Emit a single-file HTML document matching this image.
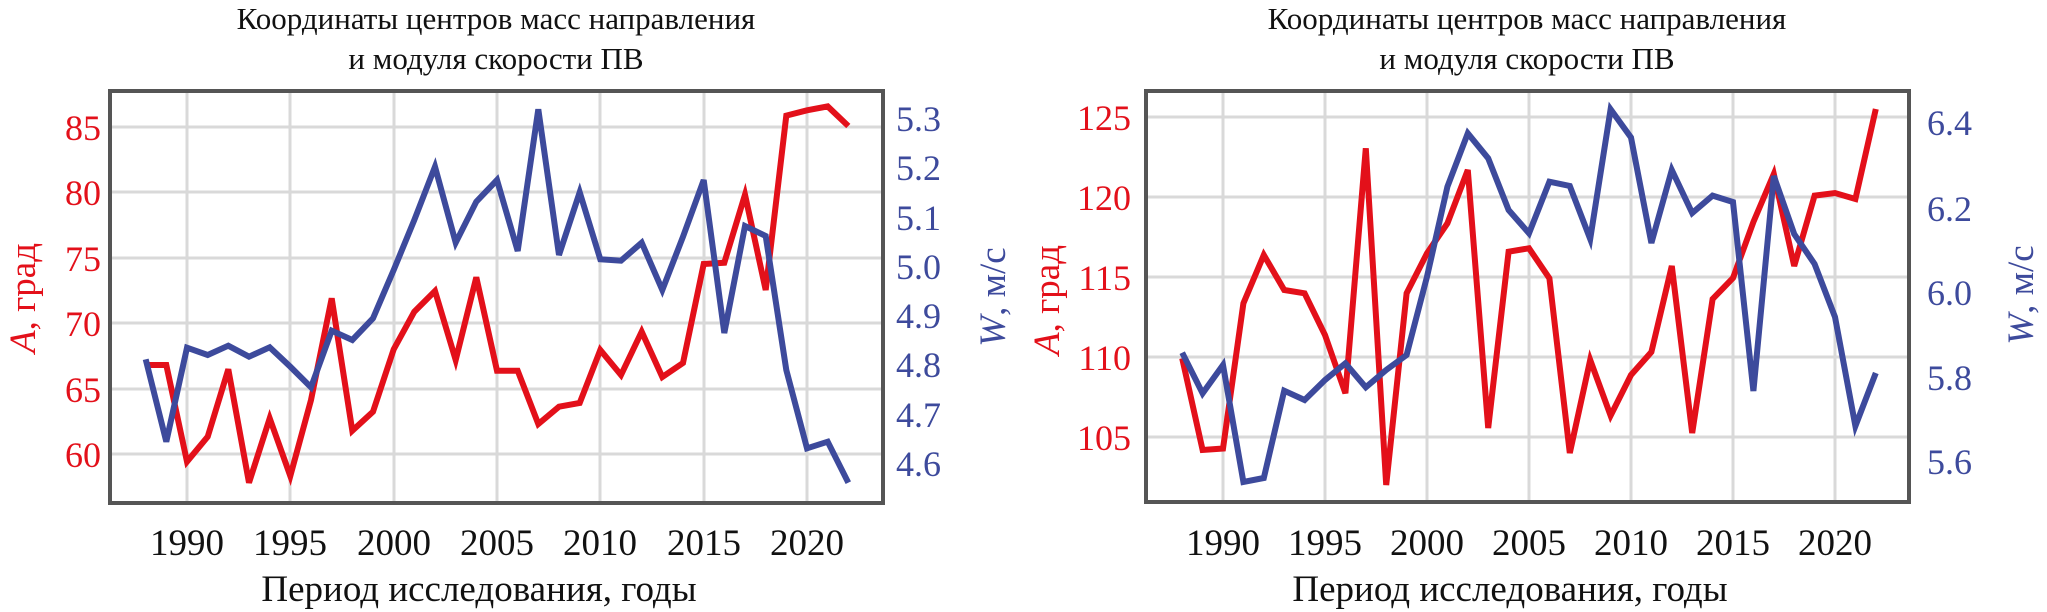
<!DOCTYPE html>
<html><head><meta charset="utf-8"><style>
html,body{margin:0;padding:0;background:#fff;width:2047px;height:612px;overflow:hidden;}
svg{display:block;font-family:"Liberation Serif",serif;}
</style></head><body>
<svg width="2047" height="612" viewBox="0 0 2047 612" xmlns="http://www.w3.org/2000/svg">
<!-- LEFT CHART -->
<g>
<text x="496" y="29" font-size="31" text-anchor="middle" fill="#111">Координаты центров масс направления</text>
<text x="496" y="69" font-size="31" text-anchor="middle" fill="#111">и модуля скорости ПВ</text>
<g stroke="#d9d9d9" stroke-width="3">
<line x1="110" x2="883" y1="127" y2="127"/><line x1="110" x2="883" y1="192" y2="192"/>
<line x1="110" x2="883" y1="258" y2="258"/><line x1="110" x2="883" y1="323" y2="323"/>
<line x1="110" x2="883" y1="389" y2="389"/><line x1="110" x2="883" y1="454" y2="454"/>
<line x1="187" x2="187" y1="91" y2="503"/><line x1="290" x2="290" y1="91" y2="503"/>
<line x1="394" x2="394" y1="91" y2="503"/><line x1="497" x2="497" y1="91" y2="503"/>
<line x1="600" x2="600" y1="91" y2="503"/><line x1="704" x2="704" y1="91" y2="503"/>
<line x1="807" x2="807" y1="91" y2="503"/>
</g>
<polyline fill="none" stroke="#e3101a" stroke-width="6" points="145.7,365 166.3,365 187,461.7 207.7,436.7 228.3,369.3 249,482.7 269.7,418.3 290.3,476 311,400 331.7,298.3 352.3,430.7 373,411.7 393.7,349.3 414.3,311.7 435,291 455.7,360 476.3,277.3 497,370.7 517.7,370.7 538.3,424 559,406.7 579.7,403 600.3,350 621,375 641.7,331.7 662.3,377 683,363 703.7,264 724.3,262.7 745,194.7 765.7,290 786.3,115.6 807,110.3 827.7,106.4 848.3,126"/>
<polyline fill="none" stroke="#3d4a9c" stroke-width="6" points="145.7,359.3 166.3,441.7 187,347.7 207.7,355 228.3,345.7 249,356.7 269.7,347.3 290.3,366.7 311,387.3 331.7,330.7 352.3,340 373,318.3 393.7,270 414.3,220 435,166.7 455.7,242.7 476.3,201.7 497,180 517.7,251 538.3,109.3 559,255 579.7,192.3 600.3,259.3 621,260.7 641.7,242.7 662.3,290 683,236.7 703.7,180 724.3,333 745,226 765.7,236 786.3,370 807,448.3 827.7,441.7 848.3,482.7"/>
<rect x="110" y="91" width="773" height="412" fill="none" stroke="#555" stroke-width="4"/>
<g font-size="36" fill="#e3101a" text-anchor="end">
<text x="101" y="140">85</text><text x="101" y="205">80</text><text x="101" y="271">75</text>
<text x="101" y="336">70</text><text x="101" y="402">65</text><text x="101" y="467">60</text>
</g>
<g font-size="36" fill="#3d4a9c">
<text x="896" y="131">5.3</text><text x="896" y="180">5.2</text><text x="896" y="230">5.1</text>
<text x="896" y="279">5.0</text><text x="896" y="328">4.9</text><text x="896" y="377">4.8</text>
<text x="896" y="427">4.7</text><text x="896" y="476">4.6</text>
</g>
<g font-size="37" fill="#111" text-anchor="middle">
<text x="187" y="555">1990</text><text x="290" y="555">1995</text><text x="394" y="555">2000</text>
<text x="497" y="555">2005</text><text x="600" y="555">2010</text><text x="704" y="555">2015</text>
<text x="807" y="555">2020</text>
<text x="479" y="601">Период исследования, годы</text>
</g>
<text transform="translate(35,298) rotate(-90)" font-size="37" fill="#e3101a" text-anchor="middle"><tspan font-style="italic">A</tspan>, град</text>
<text transform="translate(1005,297) rotate(-90)" font-size="37" fill="#3d4a9c" text-anchor="middle"><tspan font-style="italic">W</tspan>, м/с</text>
</g>
<!-- RIGHT CHART -->
<g>
<text x="1527" y="29" font-size="31" text-anchor="middle" fill="#111">Координаты центров масс направления</text>
<text x="1527" y="69" font-size="31" text-anchor="middle" fill="#111">и модуля скорости ПВ</text>
<g stroke="#d9d9d9" stroke-width="3">
<line x1="1146" x2="1909" y1="117" y2="117"/><line x1="1146" x2="1909" y1="197" y2="197"/>
<line x1="1146" x2="1909" y1="277" y2="277"/><line x1="1146" x2="1909" y1="357" y2="357"/>
<line x1="1146" x2="1909" y1="437" y2="437"/>
<line x1="1223" x2="1223" y1="91" y2="502"/><line x1="1325" x2="1325" y1="91" y2="502"/>
<line x1="1427" x2="1427" y1="91" y2="502"/><line x1="1529" x2="1529" y1="91" y2="502"/>
<line x1="1631" x2="1631" y1="91" y2="502"/><line x1="1733" x2="1733" y1="91" y2="502"/>
<line x1="1835" x2="1835" y1="91" y2="502"/>
</g>
<polyline fill="none" stroke="#e3101a" stroke-width="6" points="1182.2,358.3 1202.6,450 1223,448.5 1243.4,303.3 1263.8,255 1284.2,290 1304.6,293.3 1325,335 1345.4,393.3 1365.8,148.3 1386.2,485 1406.6,293.3 1427,253.3 1447.4,223.3 1467.8,170 1488.2,428 1508.6,251.7 1529,248.3 1549.4,278.3 1569.8,453 1590.2,360 1610.6,415.6 1631,375 1651.4,352 1671.8,266 1692.2,433 1712.6,299 1733,278 1753.4,222 1773.8,174 1794.2,266 1814.6,195.6 1835,193 1855.4,199 1875.8,109"/>
<polyline fill="none" stroke="#3d4a9c" stroke-width="6" points="1182.2,352.7 1202.6,393.3 1223,365 1243.4,482 1263.8,478 1284.2,390.7 1304.6,400 1325,380 1345.4,363.3 1365.8,387.3 1386.2,370 1406.6,355 1427,276.7 1447.4,186.7 1467.8,133.3 1488.2,158.3 1508.6,210 1529,233.3 1549.4,181.7 1569.8,186 1590.2,239 1610.6,109.3 1631,137.5 1651.4,243 1671.8,170 1692.2,213 1712.6,195.6 1733,202 1753.4,391 1773.8,176 1794.2,234 1814.6,264 1835,317 1855.4,426 1875.8,373"/>
<rect x="1146" y="91" width="763" height="411" fill="none" stroke="#555" stroke-width="4"/>
<g font-size="36" fill="#e3101a" text-anchor="end">
<text x="1131" y="130">125</text><text x="1131" y="210">120</text><text x="1131" y="290">115</text>
<text x="1131" y="370">110</text><text x="1131" y="450">105</text>
</g>
<g font-size="36" fill="#3d4a9c">
<text x="1927" y="135">6.4</text><text x="1927" y="221">6.2</text><text x="1927" y="305">6.0</text>
<text x="1927" y="390">5.8</text><text x="1927" y="474">5.6</text>
</g>
<g font-size="37" fill="#111" text-anchor="middle">
<text x="1223" y="555">1990</text><text x="1325" y="555">1995</text><text x="1427" y="555">2000</text>
<text x="1529" y="555">2005</text><text x="1631" y="555">2010</text><text x="1733" y="555">2015</text>
<text x="1835" y="555">2020</text>
<text x="1510" y="601">Период исследования, годы</text>
</g>
<text transform="translate(1059,300) rotate(-90)" font-size="37" fill="#e3101a" text-anchor="middle"><tspan font-style="italic">A</tspan>, град</text>
<text transform="translate(2033,295) rotate(-90)" font-size="37" fill="#3d4a9c" text-anchor="middle"><tspan font-style="italic">W</tspan>, м/с</text>
</g>
</svg>
</body></html>
